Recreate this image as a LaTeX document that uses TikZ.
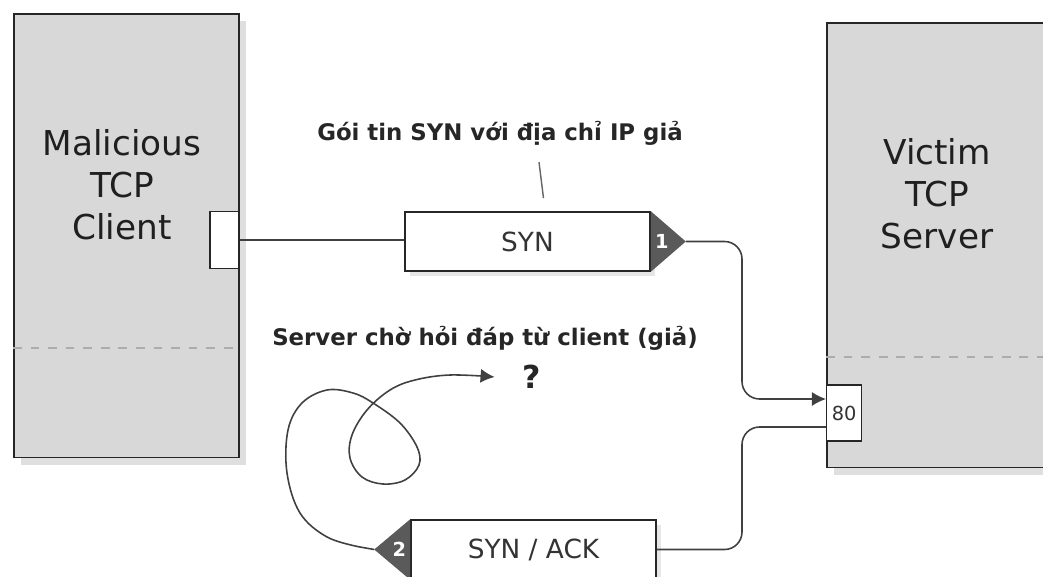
\documentclass[tikz,border=0pt]{standalone}
\usepackage{fontspec}
\setmainfont{DejaVu Sans}
\usetikzlibrary{arrows.meta, positioning, calc, shadows}
\definecolor{boxgrey}{HTML}{D8D8D8}
\definecolor{taggrey}{HTML}{5A5A5A}
\definecolor{inkgrey}{HTML}{333333}

\tikzset{
  hostbox/.style={draw=black!85, line width=0.9pt, fill=boxgrey, inner sep=0pt,
    anchor=north west, drop shadow={opacity=0.25, shadow xshift=4pt, shadow yshift=-4pt}},
  hostlabel/.style={text=black!88, align=center, font=\fontsize{19.5}{23.8}\selectfont},
  portbox/.style={draw=black!85, line width=0.8pt, fill=white, inner sep=0pt},
  pktbox/.style={draw=black!85, line width=0.9pt, fill=white, minimum width=4.9cm,
    minimum height=1.18cm, inner sep=0pt, text=inkgrey, font=\fontsize{15}{18}\selectfont,
    drop shadow={opacity=0.2, shadow xshift=3pt, shadow yshift=-3pt}},
  tagnum/.style={text=white, font=\bfseries\fontsize{11}{13}\selectfont, inner sep=0pt},
  note/.style={text=black!85, font=\bfseries\fontsize{13}{15}\selectfont, inner sep=1pt},
  wire/.style={draw=black!75, line width=0.9pt, rounded corners=0.35cm},
  curlwire/.style={draw=black!75, line width=0.9pt},
  sep/.style={draw=gray!65, line width=1pt, dash pattern=on 5pt off 5pt},
}

\begin{document}
\begin{tikzpicture}[x=0.02cm, y=-0.02cm, >={Latex[length=8pt,width=8pt]}]
  \useasboundingbox (0,0) rectangle (1043,577);
  \clip (0,0) rectangle (1043,577);

  %% Hosts
  \node[hostbox, minimum width=4.5cm, minimum height=8.88cm] (client) at (13,13) {};
  \node[hostbox, minimum width=5cm, minimum height=8.9cm] (victim) at (826,22) {};
  \node[hostlabel] (clientname) at (122,185) {Malicious\\TCP\\Client};
  \node[hostlabel] (victimname) at (937,194) {Victim\\TCP\\Server};
  \draw[sep] (client.west |- 0,348) -- (client.east |- 0,348);
  \draw[sep] (victim.west |- 0,357) -- (victim.east |- 0,357);

  %% Ports
  \node[portbox, minimum width=0.58cm, minimum height=1.14cm, anchor=east]
    (cport) at (client.east |- 0,240) {};
  \node[portbox, minimum width=0.7cm, minimum height=1.12cm, anchor=west,
    font=\fontsize{11}{13}\selectfont, text=inkgrey] (port80) at (victim.west |- 0,413) {80};

  %% Packets with their numbered tags
  \node[pktbox] (syn) at (527.5,241.5) {SYN};
  \node[pktbox] (synack) at (533.5,549.5) {SYN / ACK};
  \coordinate (syntip) at ($(syn.east)+(35,0)$);
  \fill[taggrey] (syn.north east) -- (syntip) -- (syn.south east) -- cycle;
  \node[tagnum] (num1) at ($(syn.east)+(11,0)$) {1};
  \coordinate (acktip) at ($(synack.west)+(-36,0)$);
  \fill[taggrey] (synack.north west) -- (acktip) -- (synack.south west) -- cycle;
  \node[tagnum] (num2) at ($(synack.west)+(-11,0)$) {2};

  %% Wires
  \coordinate (bus) at (742,0);
  \coordinate (in80) at ($(port80.west)+(0,-14)$);
  \coordinate (out80) at ($(port80.west)+(0,14)$);
  \draw[wire] (cport.east) -- (cport.east -| syn.west);
  \draw[wire, ->] (syntip) -| (bus |- in80) -- (in80);
  \draw[wire] (out80) -| (bus |- synack.east) -- (synack.east);

  %% Notes
  \node[note] (synnote) at (500,133) {Gói tin SYN với địa chỉ IP giả};
  \draw[black!60, line width=0.8pt] ($(synnote.south)+(39,15)$) -- ($(syn.north)+(16,-13)$);
  \node[note] (waitnote) at (485,338) {Server chờ hỏi đáp từ client (giả)};
  \node[text=black!85, font=\bfseries\fontsize{18}{20}\selectfont] (ask) at (532,377) {?};
  \coordinate (askend) at ($(ask.west)+(-22,0)$);
  \draw[curlwire, ->] (acktip) -- plot[smooth, tension=0.6] coordinates {
    (360,547) (327,537) (300,513) (287,473) (288,430) (302,403) (327,390)
    (353,393) (373,403) (400,423) (417,447) (419,465) (405,480) (383,484)
    (362,477) (350,458) (352,435) (367,410) (390,390) (415,380) (450,375) (askend)};
\end{tikzpicture}
\end{document}
